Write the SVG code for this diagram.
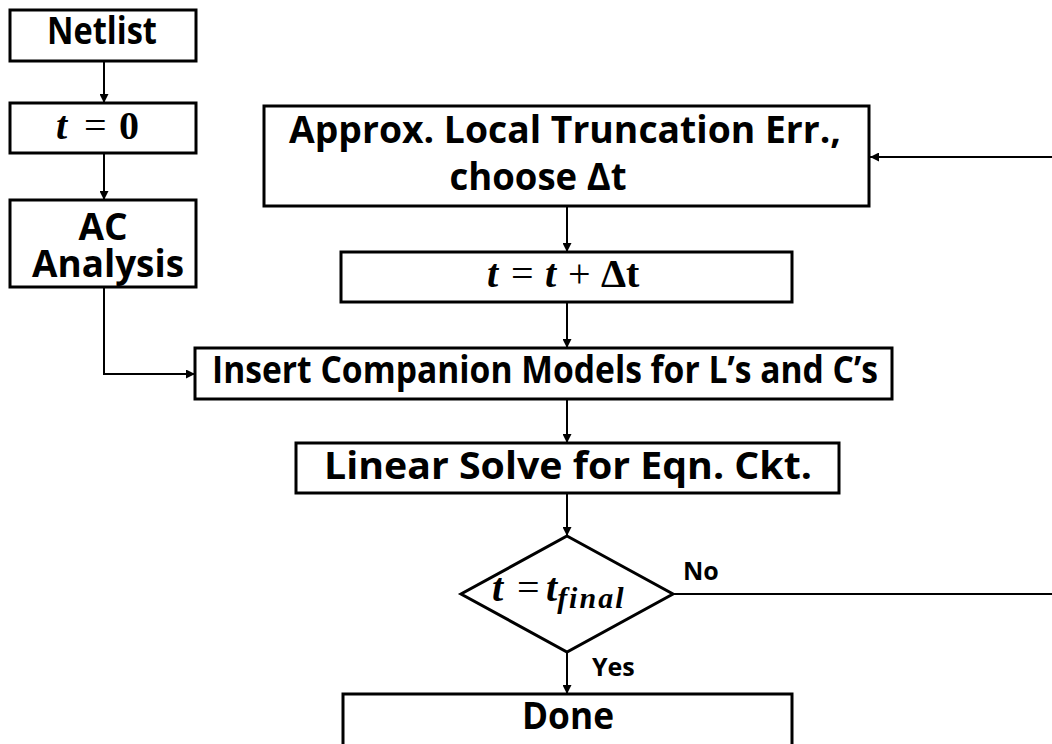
<svg xmlns="http://www.w3.org/2000/svg" width="1052" height="744" viewBox="0 0 1052 744">
  <style>
    .box { fill: #ffffff; stroke: #000000; stroke-width: 3; }
    .lbl { font-family: "Open Sans", "Noto Sans", "DejaVu Sans", sans-serif; font-weight: 700; font-size: 37px; fill: #000000; text-anchor: middle; }
    .small { font-family: "Open Sans", "Noto Sans", "DejaVu Sans", sans-serif; font-weight: 700; font-size: 25px; fill: #000000; }
    .math { font-family: "Liberation Serif", "DejaVu Serif", serif; font-size: 40px; fill: #000000; }
    .it { font-style: italic; font-weight: 700; }
    .bd { font-weight: 700; }
    .wire { fill: none; stroke: #000000; stroke-width: 2; }
  </style>
  <defs>
    <marker id="arrow" markerUnits="userSpaceOnUse" markerWidth="10" markerHeight="9" refX="9" refY="4.5" orient="auto">
      <path d="M0,0 L9,4.5 L0,9 z" fill="#000000"/>
    </marker>
  </defs>

  <rect width="1052" height="744" fill="#ffffff"/>

  <!-- connectors -->
  <g id="connectors">
    <line class="wire" x1="104" y1="61" x2="104" y2="103" marker-end="url(#arrow)"/>
    <line class="wire" x1="104" y1="153" x2="104" y2="200" marker-end="url(#arrow)"/>
    <polyline class="wire" points="104,287 104,374 195,374" marker-end="url(#arrow)"/>
    <line class="wire" x1="1052" y1="157" x2="870" y2="157" marker-end="url(#arrow)"/>
    <line class="wire" x1="567" y1="207" x2="567" y2="252" marker-end="url(#arrow)"/>
    <line class="wire" x1="567" y1="303" x2="567" y2="348" marker-end="url(#arrow)"/>
    <line class="wire" x1="567" y1="400" x2="567" y2="443" marker-end="url(#arrow)"/>
    <line class="wire" x1="567" y1="494" x2="567" y2="536" marker-end="url(#arrow)"/>
    <line class="wire" x1="567" y1="652" x2="567" y2="694" marker-end="url(#arrow)"/>
    <line class="wire" x1="672" y1="594" x2="1052" y2="594"/>
    <text class="small" x="683" y="580">No</text>
    <text class="small" x="592" y="676">Yes</text>
  </g>

  <g id="netlist">
    <rect class="box" x="10" y="10" width="186" height="51"/>
    <text class="lbl" x="102" y="44" textLength="110" lengthAdjust="spacingAndGlyphs">Netlist</text>
  </g>

  <g id="t-zero">
    <rect class="box" x="10" y="103" width="186" height="50"/>
    <text class="math" y="139"><tspan class="it" x="56">t</tspan><tspan x="84">=</tspan><tspan class="bd" x="119">0</tspan></text>
  </g>

  <g id="ac-analysis">
    <rect class="box" x="10" y="200" width="186" height="87"/>
    <text class="lbl" x="103" y="240" font-size="35">AC</text>
    <text class="lbl" x="108" y="277" font-size="35" textLength="152" lengthAdjust="spacingAndGlyphs">Analysis</text>
  </g>

  <g id="lte">
    <rect class="box" x="264" y="106" width="605" height="100"/>
    <text class="lbl" x="565" y="143" textLength="552" lengthAdjust="spacingAndGlyphs">Approx. Local Truncation Err.,</text>
    <text class="lbl" x="538" y="190" textLength="177" lengthAdjust="spacingAndGlyphs">choose Δt</text>
  </g>

  <g id="t-step">
    <rect class="box" x="341" y="252" width="451" height="50"/>
    <text class="math" y="287"><tspan class="it" x="487">t</tspan><tspan x="511">=</tspan><tspan class="it" x="545">t</tspan><tspan x="568">+</tspan><tspan class="bd" x="601">Δt</tspan></text>
  </g>

  <g id="companion">
    <rect class="box" x="195" y="348" width="697" height="51"/>
    <text class="lbl" x="545" y="383" textLength="666" lengthAdjust="spacingAndGlyphs">Insert Companion Models for L’s and C’s</text>
  </g>

  <g id="linear-solve">
    <rect class="box" x="296" y="443" width="543" height="50"/>
    <text class="lbl" x="568" y="479" textLength="488" lengthAdjust="spacingAndGlyphs">Linear Solve for Eqn. Ckt.</text>
  </g>

  <g id="time-check">
    <polygon class="box" points="567,536 673,594 567,652 461,594" stroke-width="2.5"/>
    <text class="math" y="601"><tspan class="it" x="492">t</tspan><tspan x="517">=</tspan><tspan class="it" x="546">t</tspan><tspan class="it" font-size="30" letter-spacing="2" dy="7">final</tspan></text>
  </g>

  <g id="done">
    <rect class="box" x="343" y="694" width="449" height="70"/>
    <text class="lbl" x="568" y="729" textLength="92" lengthAdjust="spacingAndGlyphs">Done</text>
  </g>
</svg>
